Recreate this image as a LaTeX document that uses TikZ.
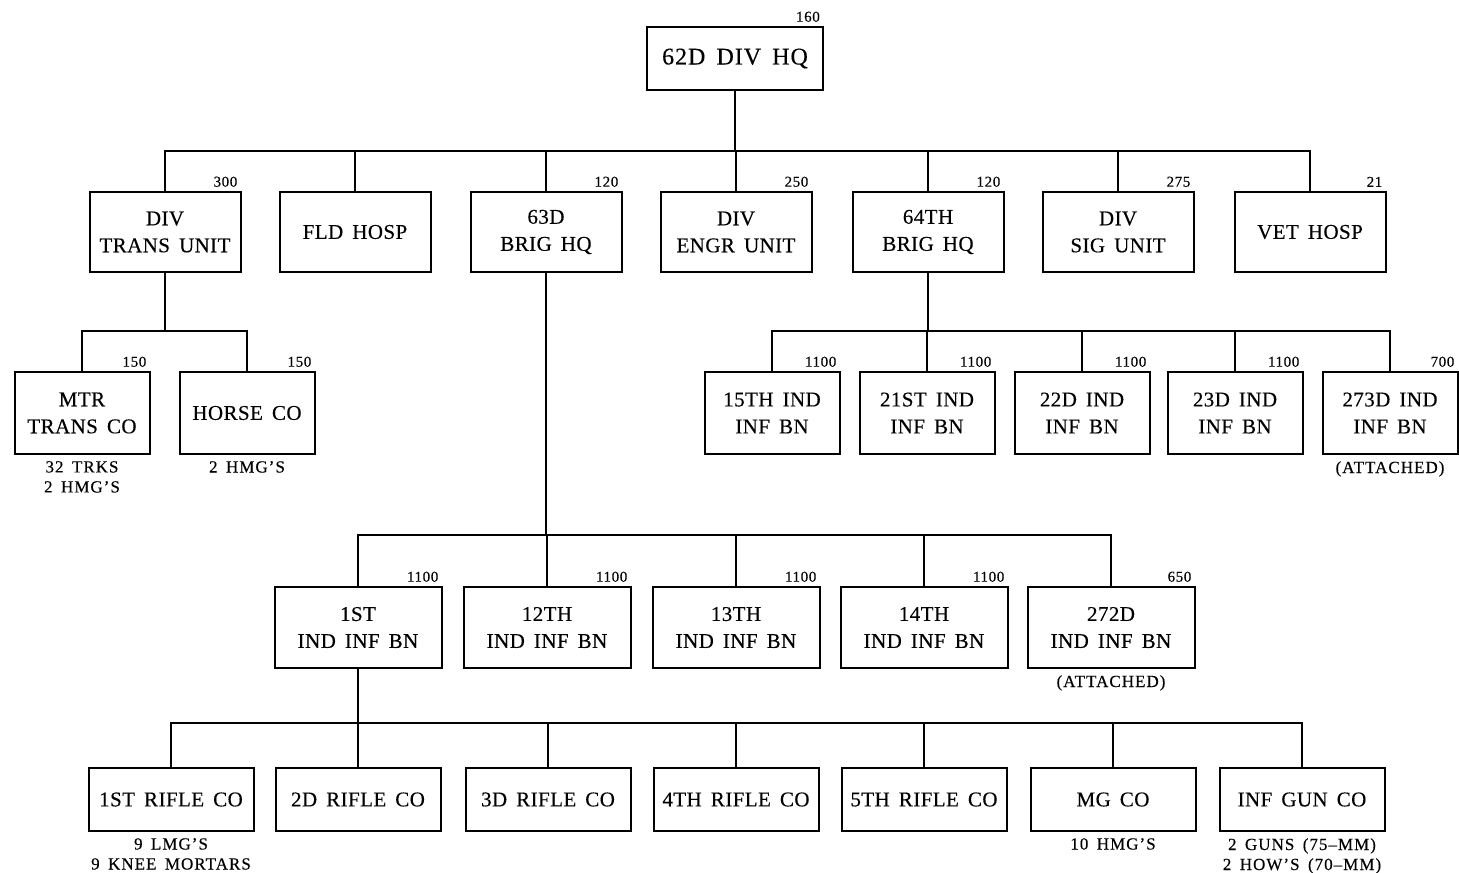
\documentclass[tikz,border=0pt]{standalone}
\usepackage{fontspec}
\setmainfont[WordSpace=1.6,LetterSpace=2,FakeBold=0.3]{Liberation Serif}
\usepackage{xcolor}
\usepackage{tikz}

\tikzset{
  unit/.style={draw,line width=1pt,align=center,inner sep=0pt,
    font=\fontsize{10.5}{13.5}\selectfont},
  strength/.style={label={[anchor=south east,inner sep=1.5pt,
    font=\fontsize{7.5}{8}\selectfont\addfontfeature{LetterSpace=4}]north east:#1}},
  note/.style={label={[anchor=north,align=center,inner sep=2.5pt,
    font=\fontsize{8.5}{10}\selectfont\addfontfeature{LetterSpace=6}]south:#1}},
}

\begin{document}
\begin{tikzpicture}[x=0.5pt,y=-0.5pt,line width=1.2pt,
  top/.style={unit,minimum width=88pt,minimum height=31.5pt,font=\fontsize{12}{14}\selectfont\addfontfeature{LetterSpace=4}},
  staff/.style={unit,minimum width=75.5pt,minimum height=40pt},
  coy/.style={unit,minimum width=67.5pt,minimum height=41pt},
  bn/.style={unit,minimum width=83.5pt,minimum height=40.5pt},
  rifle/.style={unit,minimum width=82.5pt,minimum height=31.5pt}]
\useasboundingbox (0,0) rectangle (1459,872);

\node[top,strength=160] (hq) at (735,58.5) {62D\ DIV\ HQ};

\node[staff,strength=300] (trans) at (165,232) {DIV\\TRANS UNIT};
\node[staff] (hosp) at (355,232) {FLD HOSP};
\node[staff,strength=120] (brigA) at (546,232) {63D\\BRIG HQ};
\node[staff,strength=250] (engr) at (736,232) {DIV\\ENGR UNIT};
\node[staff,strength=120] (brigB) at (928,232) {64TH\\BRIG HQ};
\node[staff,strength=275] (sig) at (1118,232) {DIV\\SIG UNIT};
\node[staff,strength=21] (vet) at (1310,232) {VET HOSP};

\node[coy,strength=150,note={32 TRKS\\2 HMG'S}] (mtr) at (82,413) {MTR\\TRANS CO};
\node[coy,strength=150,note={2 HMG'S}] (horse) at (247,413) {HORSE CO};

\node[coy,strength=1100] (bnA) at (772,413) {15TH IND\\INF BN};
\node[coy,strength=1100] (bnB) at (927,413) {21ST IND\\INF BN};
\node[coy,strength=1100] (bnC) at (1082,413) {22D IND\\INF BN};
\node[coy,strength=1100] (bnD) at (1235,413) {23D IND\\INF BN};
\node[coy,strength=700,note={(ATTACHED)}] (bnE) at (1390,413) {273D IND\\INF BN};

\node[bn,strength=1100] (bn1) at (358,627.5) {1ST\\IND INF BN};
\node[bn,strength=1100] (bn12) at (547,627.5) {12TH\\IND INF BN};
\node[bn,strength=1100] (bn13) at (736,627.5) {13TH\\IND INF BN};
\node[bn,strength=1100] (bn14) at (924,627.5) {14TH\\IND INF BN};
\node[bn,strength=650,note={(ATTACHED)}] (bn272) at (1111,627.5) {272D\\IND INF BN};

\node[rifle,note={9 LMG'S\\9 KNEE MORTARS}] (co1) at (171,799.5) {1ST RIFLE CO};
\node[rifle] (co2) at (358,799.5) {2D RIFLE CO};
\node[rifle] (co3) at (548,799.5) {3D RIFLE CO};
\node[rifle] (co4) at (736,799.5) {4TH RIFLE CO};
\node[rifle] (co5) at (924,799.5) {5TH RIFLE CO};
\node[rifle,note={10 HMG'S}] (mg) at (1113,799.5) {MG CO};
\node[rifle,note={2 GUNS (75--MM)\\2 HOW'S (70--MM)}] (gun) at (1302,799.5) {INF GUN CO};

\coordinate (busA) at (0,151);
\coordinate (busB) at (0,331);
\coordinate (busC) at (0,535);
\coordinate (busD) at (0,723);

\draw (hq.south) -- (hq.south |- busA);
\draw (trans.north) |- (vet.north |- busA) -- (vet.north);
\foreach \u in {hosp,brigA,engr,brigB,sig}
  \draw (\u.north) -- (\u.north |- busA);

\draw (trans.south) -- (trans.south |- busB);
\draw (mtr.north) |- (horse.north |- busB) -- (horse.north);

\draw (brigB.south) -- (brigB.south |- busB);
\draw (bnA.north) |- (bnE.north |- busB) -- (bnE.north);
\foreach \u in {bnB,bnC,bnD}
  \draw (\u.north) -- (\u.north |- busB);

\draw (brigA.south) -- (brigA.south |- busC);
\draw (bn1.north) |- (bn272.north |- busC) -- (bn272.north);
\foreach \u in {bn12,bn13,bn14}
  \draw (\u.north) -- (\u.north |- busC);

\draw (bn1.south) -- (bn1.south |- busD);
\draw (co1.north) |- (gun.north |- busD) -- (gun.north);
\foreach \u in {co2,co3,co4,co5,mg}
  \draw (\u.north) -- (\u.north |- busD);
\end{tikzpicture}
\end{document}
